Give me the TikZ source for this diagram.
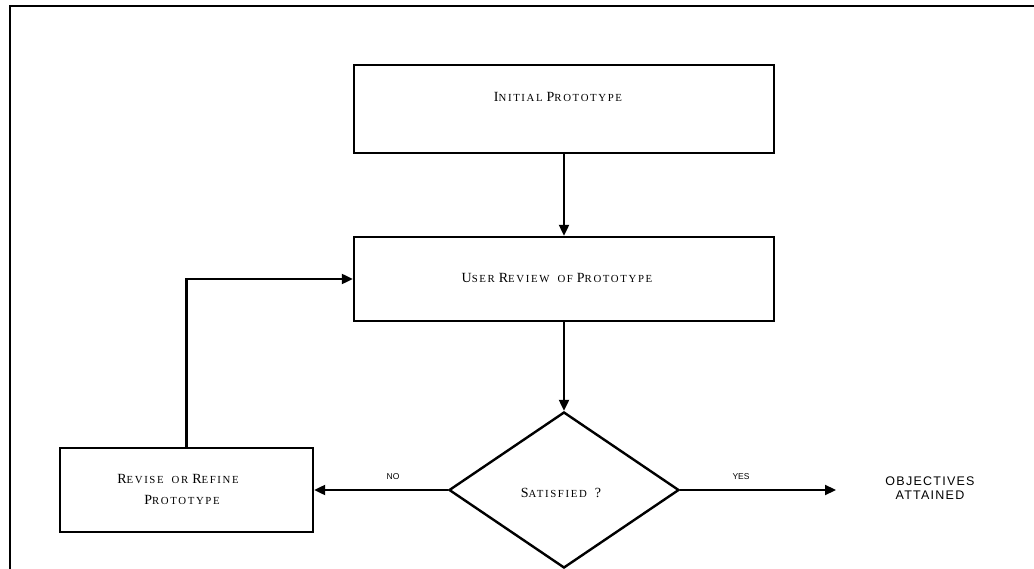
\documentclass[tikz,border=0pt]{standalone}
\usepackage{fontspec}
\setmainfont{Liberation Serif}
\setsansfont{Liberation Sans}
\usetikzlibrary{shapes.geometric,arrows.meta}
\newcommand\fsc[2]{{\fontsize{14}{16}\selectfont #1}{\fontsize{10.8}{16}\selectfont #2}}
\tikzset{
  box/.style={draw, line width=2.4pt, rectangle, inner sep=0pt},
  lbl/.style={font=\addfontfeature{LetterSpace=15}, inner sep=0pt, align=center},
  small/.style={font=\sffamily\fontsize{8.5}{9}\selectfont, inner sep=0pt},
  arr/.style={line width=2.2pt, -{Triangle[length=11pt,width=10pt]}},
  frame/.style={line width=2.4pt}
}
\begin{document}
\begin{tikzpicture}[x=1pt,y=-1pt]
\useasboundingbox (0,0) rectangle (1034,569);
\coordinate (fa) at (10,569);
\coordinate (fb) at (10,6);
\coordinate (fc) at (1034,6);
\draw[frame] (fa) -- (fb) -- (fc);

\node[box, minimum width=420pt, minimum height=88pt] (init) at (564,109) {};
\node[lbl] (tinit) at (558,97) {\fsc{I}{NITIAL} \fsc{P}{ROTOTYPE}};

\node[box, minimum width=420pt, minimum height=84pt] (review) at (564,279) {};
\node[lbl] (treview) at (557,278) {\fsc{U}{SER} \fsc{R}{EVIEW}\ \ \fsc{}{OF} \fsc{P}{ROTOTYPE}};

\node[draw, diamond, line width=2.4pt, minimum width=230pt, minimum height=156pt, inner sep=0pt] (dec) at (564,490) {};
\node[lbl] (tdec) at (561,493) {\fsc{S}{ATISFIED}\ \ \fsc{?}{}};

\node[box, minimum width=253pt, minimum height=84pt] (revise) at (186.5,490) {};
\node[lbl] (trev1) at (178,479) {\fsc{R}{EVISE}\ \ \fsc{}{OR} \fsc{R}{EFINE}};
\node[lbl] (trev2) at (182,500) {\fsc{P}{ROTOTYPE}};

\coordinate (yesend) at (836,490);
\node[font=\sffamily\fontsize{12.5}{13}\selectfont\addfontfeature{LetterSpace=10}, align=center, inner sep=0pt] (obj) at (930,488) {OBJECTIVES\\[1pt]ATTAINED};

\draw[arr] (init.south) -- (review.north);
\draw[arr] (review.south) -- (dec.north);
\draw[arr] (dec.west) -- (revise.east);
\draw[arr] (dec.east) -- (yesend);
\draw[arr] (revise.north) |- (review.west);

\node[small] (no) at (393,477) {NO};
\node[small] (yes) at (741,477) {YES};
\end{tikzpicture}
\end{document}
